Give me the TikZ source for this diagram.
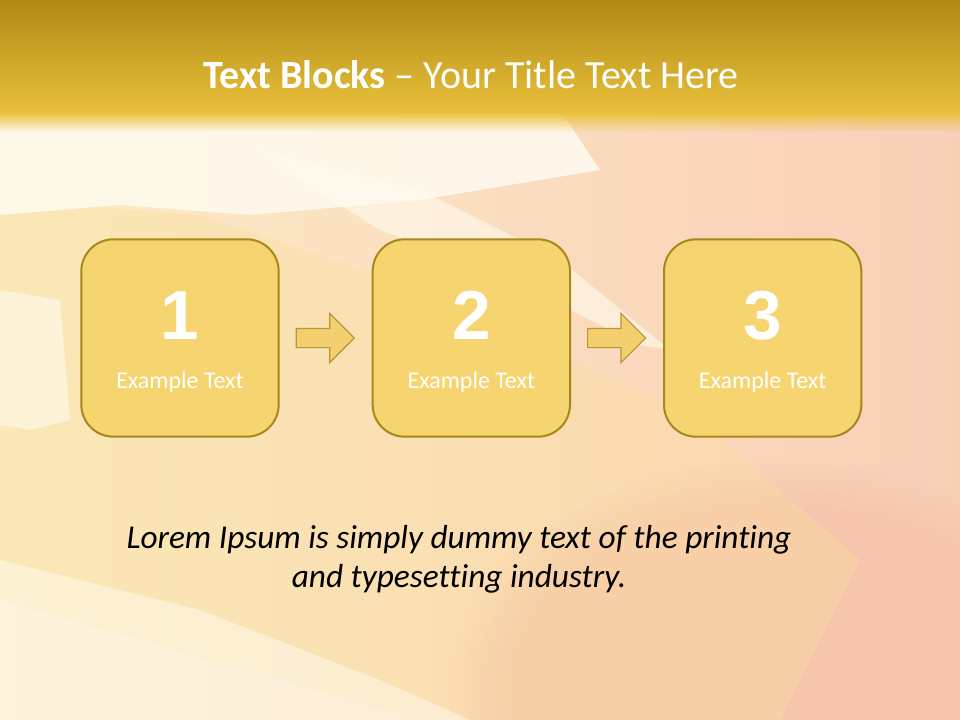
\documentclass[tikz,border=0pt]{standalone}
\usepackage{fontspec}
\setmainfont[Ligatures=NoCommon]{Carlito}
\newfontfamily\numfont{Liberation Sans}
\usetikzlibrary{positioning,shapes.arrows,fadings}

\definecolor{bandtop}{HTML}{B08A15}
\definecolor{bandbot}{HTML}{E9C03B}
\definecolor{boxfill}{HTML}{F6D46F}
\definecolor{boxline}{HTML}{A8871C}
\definecolor{arrowline}{HTML}{B59638}
\definecolor{cream}{HTML}{FFFBF0}
\definecolor{paleyellow}{HTML}{FCEDC6}
\definecolor{peach}{HTML}{F9CFB8}
\definecolor{pinkish}{HTML}{F7C0AA}
\definecolor{streak}{HTML}{FAE09A}

\begin{document}
\begin{tikzpicture}[
  x=0.75pt, y=-0.75pt,
  node distance=69pt,
  stepbox/.style={draw=boxline, line width=1.5pt, fill=boxfill, rounded corners=24pt,
    minimum width=148pt, minimum height=148pt, inner sep=0pt},
  flow/.style={single arrow, draw=arrowline, line width=0.9pt, fill=boxfill!95!brown,
    inner xsep=12.75pt, inner ysep=6.75pt, single arrow head extend=11.25pt,
    minimum height=43.5pt},
  num/.style={text=white, font=\numfont\bfseries\fontsize{52}{56}\selectfont},
  lbl/.style={text=white, font=\fontsize{18}{21}\selectfont},
  title/.style={text=white, font=\fontsize{30}{36}\selectfont},
  body/.style={align=center, font=\itshape\fontsize{25}{29}\selectfont}
]
% background
\useasboundingbox (0,0) rectangle (960,720);
\fill[left color=paleyellow, right color=peach] (0,0) rectangle (960,720);
\fill[pinkish, opacity=0.7, path fading=circle with fuzzy edge 20 percent]
  (780,690) ellipse (340 and 230);
\fill[streak, opacity=0.35] (0,200) -- (200,215) -- (420,290) -- (700,420) -- (860,560)
  -- (780,720) -- (420,720) -- (0,600) -- cycle;
\fill[cream, opacity=0.85] (0,110) -- (560,110) -- (600,170) -- (420,200) -- (250,215)
  -- (120,205) -- (0,215) -- cycle;
\fill[cream, opacity=0.6] (260,150) -- (420,190) -- (560,260) -- (670,350) -- (640,345)
  -- (520,285) -- (380,230) -- (300,180) -- cycle;
\fill[cream, opacity=0.6] (0,290) -- (60,300) -- (70,420) -- (30,430) -- (0,425) -- cycle;
\fill[cream, opacity=0.5] (0,560) -- (200,610) -- (380,680) -- (470,720) -- (0,720) -- cycle;
% title band
\fill[top color=bandtop, bottom color=bandbot] (0,0) rectangle (960,112);
\fill[bandbot, path fading=south] (0,112) rectangle (960,132);
\node[title] (head) at (471,75) {\textbf{Text Blocks} -- Your Title Text Here};

% steps
\node[stepbox] (b1) at (180,338) {};
\node[stepbox, right=of b1] (b2) {};
\node[stepbox, right=of b2] (b3) {};
\node[flow, right=12pt of b1] (a1) {};
\node[flow, right=12pt of b2] (a2) {};

\node[num] (n1) at ([yshift=17pt]b1.center) {1};
\node[num] (n2) at ([yshift=17pt]b2.center) {2};
\node[num] (n3) at ([yshift=17pt]b3.center) {3};
\node[lbl] (t1) at ([yshift=-33pt]b1.center) {Example Text};
\node[lbl] (t2) at ([yshift=-33pt]b2.center) {Example Text};
\node[lbl] (t3) at ([yshift=-33pt]b3.center) {Example Text};

\node[body] (note) at (459,559) {Lorem Ipsum is simply dummy text of the printing\\and typesetting industry.};
\end{tikzpicture}
\end{document}
